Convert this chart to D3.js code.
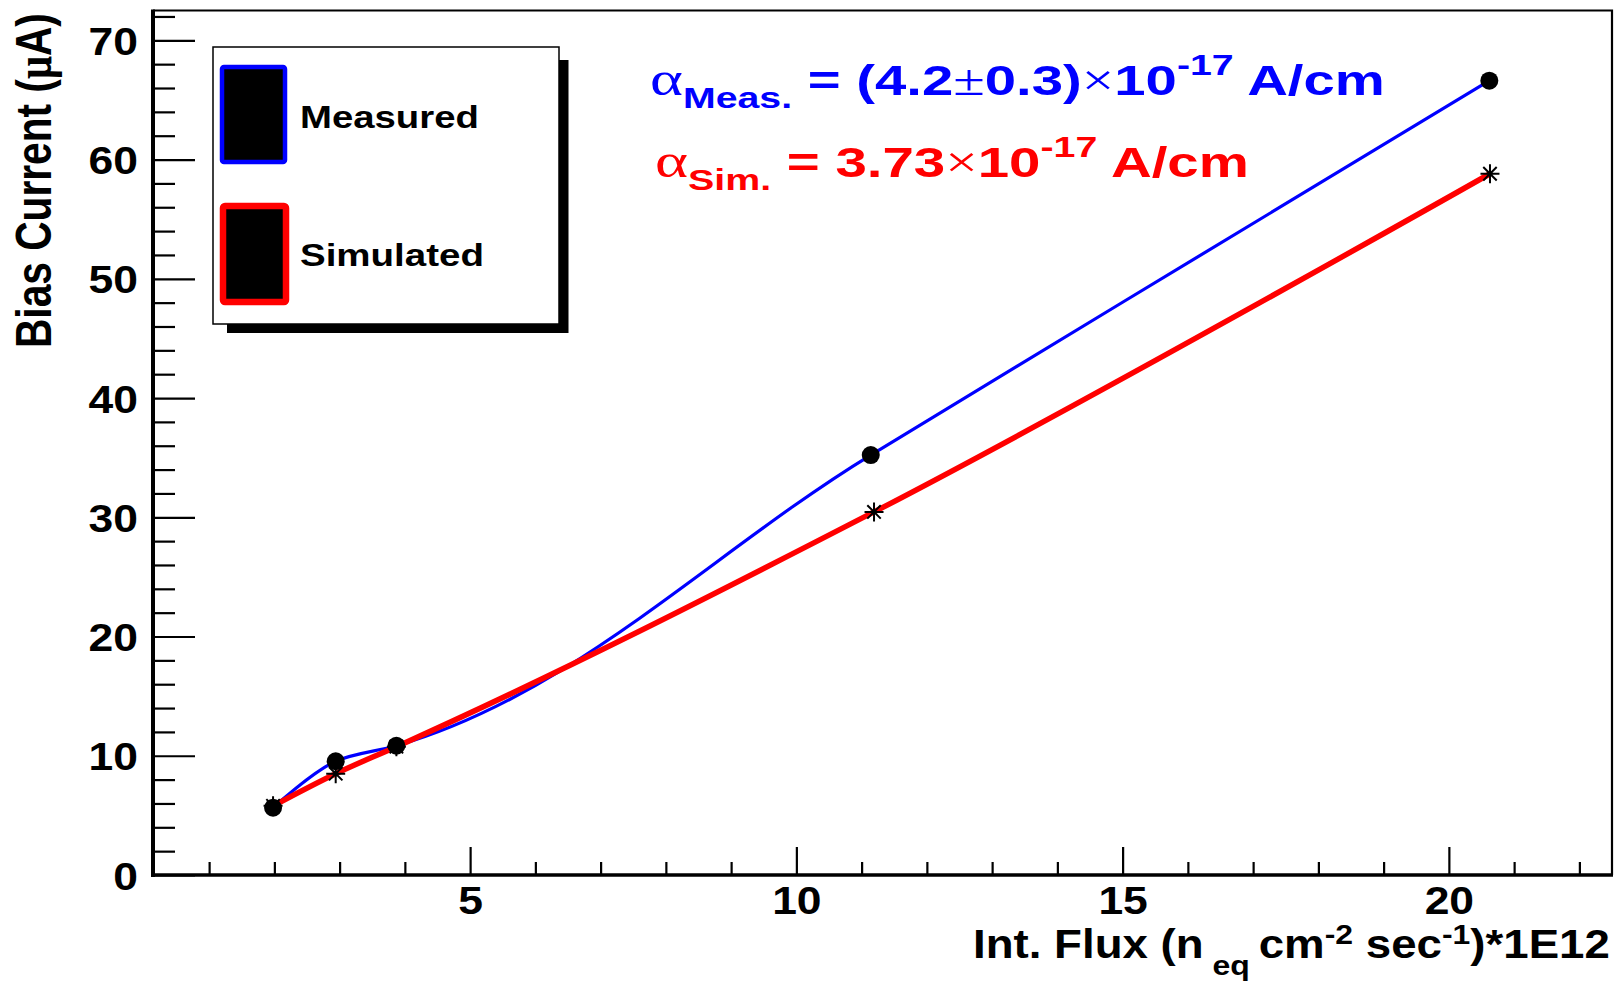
<!DOCTYPE html>
<html>
<head>
<meta charset="utf-8">
<script src="https://cdn.jsdelivr.net/npm/d3@7/dist/d3.min.js"></script>
<style>
  html, body { margin: 0; padding: 0; background: #fff; }
  svg { display: block; }
  text { font-family: "Liberation Sans", Arial, sans-serif; font-weight: bold; }
</style>
</head>
<body>
<svg id="chart" width="1623" height="981"></svg>
<script>
// ---------- data ----------
const seriesNames = ["Measured", "Simulated"];
const seriesColors = ["#0000ff", "#ff0000"];
const measuredX = [1.98, 2.94, 3.87, 11.14, 20.62];
const measuredY = [5.64, 9.54, 10.84, 35.22, 66.61];
const simulatedX = [1.98, 2.94, 3.87, 11.19, 20.63];
const simulatedY = [5.8, 8.5, 10.76, 30.45, 58.81];
const xMajorTicks = [5, 10, 15, 20];
const xMinorTicks = [1, 2, 3, 4, 6, 7, 8, 9, 11, 12, 13, 14, 16, 17, 18, 19, 21, 22];
const yMajorTicks = [0, 10, 20, 30, 40, 50, 60, 70];
const yMinorTicks = [2, 4, 6, 8, 12, 14, 16, 18, 22, 24, 26, 28, 32, 34, 36, 38, 42, 44, 46, 48, 52, 54, 56, 58, 62, 64, 66, 68, 72];
const xDomain = [0.14, 22.5];
const yDomain = [0, 72.5];

// ---------- layout ----------
const L = 153, R = 1612, T = 10.5, B = 875;
const svg = d3.select("#chart");
svg.append("rect").attr("width", 1623).attr("height", 981).attr("fill", "#fff");

const x = d3.scaleLinear().domain(xDomain).range([L, R]);
const y = d3.scaleLinear().domain(yDomain).range([B, T]);

// helper: fit a text element horizontally to a target width
function fit(sel, x0, y0, targetW, anchor) {
  sel.attr("transform", null).attr("x", 0).attr("y", 0);
  const bb = sel.node().getBBox();
  const s = targetW / bb.width;
  let tx = x0 - bb.x * s;
  if (anchor === "end") tx = x0 - targetW - bb.x * s;
  sel.attr("transform", `translate(${tx},${y0}) scale(${s},1)`);
}

// frame (top and right)
svg.append("path")
  .attr("d", `M${L},${T}H${R}V${B}`)
  .attr("fill", "none").attr("stroke", "#000").attr("stroke-width", 2.2);

// ---------- axes ----------
const tickScale = 1.14;
const yAxisMajor = d3.axisLeft(y).tickValues(yMajorTicks).tickSize(-42).tickPadding(15).tickFormat(d3.format("d"));
const yAxisMinor = d3.axisLeft(y).tickValues(yMinorTicks).tickSize(-22).tickFormat("");
const gy = svg.append("g").attr("transform", `translate(${L},0)`);
gy.call(yAxisMinor);
const gy2 = svg.append("g").attr("transform", `translate(${L},0)`).call(yAxisMajor);
[gy, gy2].forEach(g => {
  g.selectAll("path.domain").remove();
  g.selectAll("line").attr("stroke", "#000").attr("stroke-width", 2.2);
});
gy2.selectAll("text")
  .attr("font-size", 39).attr("fill", "#000")
  .attr("font-family", "Liberation Sans, Arial, sans-serif").attr("font-weight", "bold")
  .attr("x", 0).attr("dy", "0.36em")
  .attr("transform", `translate(-15,0) scale(${tickScale},1)`);

const xAxisMajor = d3.axisBottom(x).tickValues(xMajorTicks).tickSize(-28).tickFormat(d3.format("d"));
const xAxisMinor = d3.axisBottom(x).tickValues(xMinorTicks).tickSize(-13).tickFormat("");
const gx = svg.append("g").attr("transform", `translate(0,${B})`).call(xAxisMinor);
const gx2 = svg.append("g").attr("transform", `translate(0,${B})`).call(xAxisMajor);
[gx, gx2].forEach(g => {
  g.selectAll("path.domain").remove();
  g.selectAll("line").attr("stroke", "#000").attr("stroke-width", 2.2);
});
gx2.selectAll("text")
  .attr("font-size", 39).attr("fill", "#000")
  .attr("font-family", "Liberation Sans, Arial, sans-serif").attr("font-weight", "bold")
  .attr("y", 0).attr("dy", 0)
  .attr("transform", `translate(0,39) scale(${tickScale},1)`);

// axis lines
svg.append("line").attr("x1", L).attr("x2", L).attr("y1", T - 1).attr("y2", B + 2)
  .attr("stroke", "#000").attr("stroke-width", 4);
svg.append("line").attr("x1", L - 2).attr("x2", R + 1).attr("y1", B).attr("y2", B)
  .attr("stroke", "#000").attr("stroke-width", 3.5);

// ---------- lines ----------
const measured = measuredX.map((v, i) => ({ x: v, y: measuredY[i] }));
const simulated = simulatedX.map((v, i) => ({ x: v, y: simulatedY[i] }));
const line = d3.line().x(d => x(d.x)).y(d => y(d.y)).curve(d3.curveCatmullRom.alpha(1));

svg.append("path").datum(measured).attr("d", line)
  .attr("fill", "none").attr("stroke", seriesColors[0]).attr("stroke-width", 3.2);
svg.append("path").datum(simulated).attr("d", line)
  .attr("fill", "none").attr("stroke", seriesColors[1]).attr("stroke-width", 5.5);

// markers
svg.append("g").selectAll("circle").data(measured).join("circle")
  .attr("cx", d => x(d.x)).attr("cy", d => y(d.y)).attr("r", 9).attr("fill", "#000");
const star = (cx, cy, s) => {
  const d = s * 0.7071;
  return `M${cx - s},${cy}H${cx + s}M${cx},${cy - s}V${cy + s}` +
         `M${cx - d},${cy - d}L${cx + d},${cy + d}M${cx - d},${cy + d}L${cx + d},${cy - d}`;
};
svg.append("g").selectAll("path").data(simulated).join("path")
  .attr("d", d => star(x(d.x), y(d.y), 9.5))
  .attr("stroke", "#000").attr("stroke-width", 2).attr("fill", "none");

// ---------- legend ----------
const lg = svg.append("g");
lg.append("rect").attr("x", 559).attr("y", 60).attr("width", 9.5).attr("height", 273).attr("fill", "#000");
lg.append("rect").attr("x", 227).attr("y", 324).attr("width", 341).attr("height", 9).attr("fill", "#000");
lg.append("rect").attr("x", 213).attr("y", 47).attr("width", 346).attr("height", 277)
  .attr("fill", "#fff").attr("stroke", "#000").attr("stroke-width", 1.5);
const legBoxes = [
  { x: 222, y: 67, w: 63, h: 95, sw: 4.5 },
  { x: 223, y: 206, w: 63, h: 96, sw: 6.5 }
];
const legText = [
  { x: 300, y: 128, w: 179 },
  { x: 300, y: 266, w: 184 }
];
seriesNames.forEach((name, i) => {
  const b = legBoxes[i];
  lg.append("rect").attr("x", b.x).attr("y", b.y).attr("width", b.w).attr("height", b.h)
    .attr("rx", 2).attr("fill", "#000").attr("stroke", seriesColors[i]).attr("stroke-width", b.sw);
  const t = lg.append("text").attr("font-size", 32).attr("fill", "#000").text(name);
  fit(t, legText[i].x, legText[i].y, legText[i].w, "start");
});

// ---------- annotations ----------
function alphaText(color, sub, parts, x0, y0, w) {
  const t = svg.append("text").attr("fill", color).attr("font-size", 43);
  t.append("tspan").attr("font-family", "Liberation Serif, serif").attr("font-weight", "normal")
    .attr("font-size", 48).text("α");
  t.append("tspan").attr("font-size", 30).attr("dy", 13).text(sub);
  let dyAcc = 13;
  parts.forEach(p => {
    const ts = t.append("tspan");
    if (p.serif) ts.attr("font-family", "Liberation Serif, serif").attr("font-weight", "normal");
    if (p.sup) { ts.attr("font-size", 30).attr("dy", -20 - dyAcc); dyAcc = -20; }
    else if (dyAcc !== 0) { ts.attr("dy", -dyAcc); dyAcc = 0; }
    if (p.size) ts.attr("font-size", p.size);
    ts.text(p.t);
  });
  fit(t, x0, y0, w, "start");
}
alphaText(seriesColors[0], "Meas.", [
  { t: " = (4.2" }, { t: "±", serif: true, size: 44 }, { t: "0.3)" }, { t: "×", serif: true, size: 44 },
  { t: "10" }, { t: "-17", sup: true }, { t: " A/cm" }
], 650, 95, 735);
alphaText(seriesColors[1], "Sim.", [
  { t: " = 3.73" }, { t: "×", serif: true, size: 44 },
  { t: "10" }, { t: "-17", sup: true }, { t: " A/cm" }
], 655, 177, 594);

// ---------- axis titles ----------
const xt = svg.append("text").attr("font-size", 40).attr("fill", "#000");
xt.append("tspan").text("Int. Flux (n");
xt.append("tspan").attr("font-size", 28).attr("dy", 17).text(" eq ");
xt.append("tspan").attr("dy", -17).text(" cm");
xt.append("tspan").attr("font-size", 28).attr("dy", -14).text("-2");
xt.append("tspan").attr("dy", 14).text(" sec");
xt.append("tspan").attr("font-size", 28).attr("dy", -14).text("-1");
xt.append("tspan").attr("dy", 14).text(")*1E12");
fit(xt, 1610, 958, 637, "end");

const ytG = svg.append("g").attr("transform", "translate(51,348) rotate(-90)");
const yt = ytG.append("text").attr("font-size", 50).attr("fill", "#000");
yt.append("tspan").text("Bias Current (");
yt.append("tspan").attr("font-family", "Liberation Serif, serif").text("μ");
yt.append("tspan").text("A)");
fit(yt, 0, 0, 335, "start");
</script>
</body>
</html>
